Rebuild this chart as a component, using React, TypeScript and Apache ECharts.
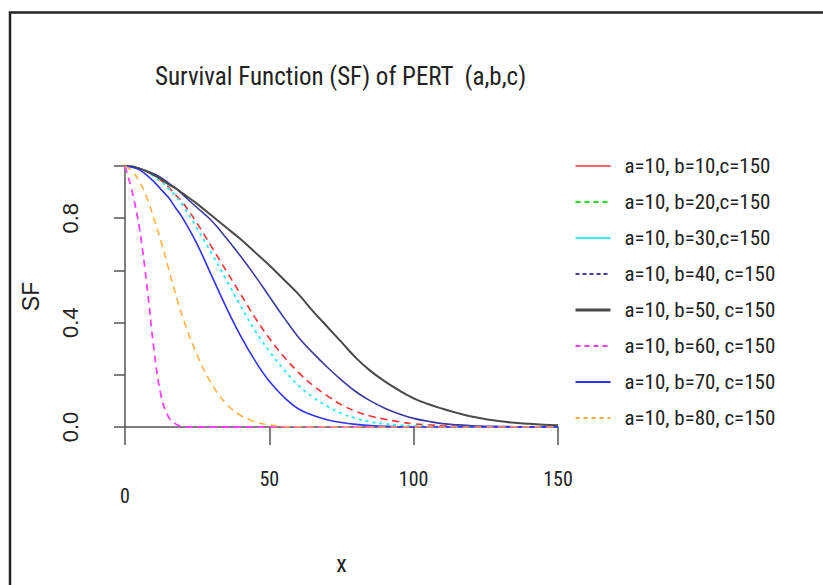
import React, { useEffect, useRef } from "react";
import * as echarts from "echarts";

// ---- data ----
const xs = [0, 2.5, 5, 7.5, 10, 12.5, 15, 17.5, 20, 25, 30, 35, 40, 45, 50, 55, 60, 65, 70, 75, 80, 85, 90, 95, 100, 105, 110, 115, 120, 125, 130, 135, 140, 145, 150];

const sfB10 = [1, 0.998, 0.99, 0.98, 0.965, 0.945, 0.92, 0.89, 0.86, 0.78, 0.69, 0.6, 0.51, 0.42, 0.34, 0.27, 0.21, 0.16, 0.12, 0.085, 0.06, 0.042, 0.03, 0.02, 0.012, 0.008, 0.005, 0.003, 0.002, 0.001, 0.001, 0, 0, 0, 0];
const sfB20: number[] = [];
const sfB30 = [1, 0.998, 0.99, 0.98, 0.96, 0.94, 0.915, 0.885, 0.85, 0.76, 0.665, 0.565, 0.465, 0.37, 0.29, 0.22, 0.16, 0.115, 0.08, 0.052, 0.033, 0.02, 0.012, 0.007, 0.004, 0.002, 0.001, 0, 0, 0, 0, 0, 0, 0, 0];
const sfB40 = [1, 0.998, 0.99, 0.98, 0.97, 0.955, 0.935, 0.915, 0.89, 0.84, 0.79, 0.725, 0.655, 0.58, 0.5, 0.42, 0.345, 0.285, 0.23, 0.18, 0.135, 0.1, 0.072, 0.05, 0.033, 0.022, 0.013, 0.008, 0.005, 0.003, 0.002, 0.001, 0, 0, 0];
const sfB50 = [1, 0.998, 0.99, 0.98, 0.965, 0.95, 0.93, 0.915, 0.895, 0.855, 0.81, 0.765, 0.72, 0.67, 0.62, 0.565, 0.51, 0.445, 0.385, 0.325, 0.265, 0.215, 0.175, 0.14, 0.11, 0.088, 0.07, 0.054, 0.04, 0.03, 0.022, 0.016, 0.012, 0.009, 0.007];
const sfB60 = [1, 0.9, 0.76, 0.55, 0.3, 0.12, 0.04, 0.012, 0.002, 0, 0, 0, 0, 0, 0, 0, 0, 0, 0, 0, 0, 0, 0, 0, 0, 0, 0, 0, 0, 0, 0, 0, 0, 0, 0];
const sfB70 = [1, 0.995, 0.985, 0.965, 0.94, 0.91, 0.88, 0.84, 0.8, 0.7, 0.58, 0.46, 0.35, 0.255, 0.175, 0.115, 0.07, 0.045, 0.028, 0.017, 0.01, 0.006, 0.003, 0.001, 0, 0, 0, 0, 0, 0, 0, 0, 0, 0, 0];
const sfB80 = [1, 0.98, 0.94, 0.88, 0.8, 0.71, 0.61, 0.51, 0.42, 0.275, 0.165, 0.09, 0.045, 0.02, 0.008, 0.002, 0, 0, 0, 0, 0, 0, 0, 0, 0, 0, 0, 0, 0, 0, 0, 0, 0, 0, 0];

const seriesNames = [
  "a=10, b=10,c=150",
  "a=10, b=20,c=150",
  "a=10, b=30,c=150",
  "a=10, b=40, c=150",
  "a=10, b=50, c=150",
  "a=10, b=60, c=150",
  "a=10, b=70, c=150",
  "a=10, b=80, c=150",
];
const seriesValues = [sfB10, sfB20, sfB30, sfB40, sfB50, sfB60, sfB70, sfB80];

const xTicks = [0, 50, 100, 150];
const yLabelled = ["0.0", "0.4", "0.8"];

const titleText = "Survival Function (SF) of PERT  (a,b,c)";

// ---- styles ----
const colors = ["#ff3030", "#22dd22", "#30f0f0", "#3a3aa0", "#4a4a4a", "#ff40ff", "#3030ff", "#ffb040"];
const plotLine = [
  { type: [7, 5], width: 1.6 },
  { type: [5, 4], width: 1.6 },
  { type: [3, 4], width: 2 },
  { type: "solid", width: 1.6 },
  { type: "solid", width: 2 },
  { type: [7, 5], width: 1.8 },
  { type: "solid", width: 1.6 },
  { type: [7, 5], width: 1.6 },
];
const legendLine = [
  { type: "solid", width: 1.6 },
  { type: [5, 4], width: 2 },
  { type: "solid", width: 2 },
  { type: [4, 3], width: 2 },
  { type: "solid", width: 3 },
  { type: [5, 4], width: 2.2 },
  { type: "solid", width: 2.2 },
  { type: [4, 4], width: 1.8 },
];

const NARROW = "'Liberation Sans Narrow', 'Arial Narrow', 'Roboto Condensed', 'Liberation Sans', Arial, sans-serif";
const SANS = "'Liberation Sans', Arial, sans-serif";

export default function App() {
  const ref = useRef<HTMLDivElement>(null);

  useEffect(() => {
    if (!ref.current) return;
    const chart = echarts.init(ref.current, null, { renderer: "svg" });

    const series = seriesNames.map((name, i) => ({
      name,
      type: "line",
      data: seriesValues[i].map((v, j) => [xs[j], v]),
      symbol: "none",
      showSymbol: false,
      smooth: 0.4,
      lineStyle: { color: colors[i], type: plotLine[i].type, width: plotLine[i].width },
      itemStyle: { color: colors[i] },
      z: 2 + i,
    }));

    chart.setOption({
      animation: false,
      backgroundColor: "#ffffff",
      title: {
        text: titleText,
        left: 155,
        top: 64,
        padding: 0,
        textStyle: { fontFamily: NARROW, fontSize: 25, fontWeight: "normal", color: "#222" },
      },
      legend: {
        orient: "vertical",
        left: 574,
        top: 153,
        padding: 0,
        itemWidth: 35,
        itemHeight: 14,
        itemGap: 10,
        selectedMode: false,
        itemStyle: { opacity: 0 },
        textStyle: { fontFamily: NARROW, fontSize: 21, color: "#222", lineHeight: 26, padding: [0, 0, 0, 9] },
        data: seriesNames.map((name, i) => ({
          name,
          itemStyle: { opacity: 0 },
          lineStyle: { color: colors[i], type: legendLine[i].type, width: legendLine[i].width },
        })),
      },
      grid: { left: 125, top: 166, width: 433, height: 261, containLabel: false },
      xAxis: {
        type: "value",
        min: xTicks[0],
        max: xTicks[xTicks.length - 1],
        interval: 50,
        offset: 9,
        name: "x",
        nameLocation: "middle",
        nameGap: 116,
        nameTextStyle: { fontFamily: NARROW, fontSize: 24, color: "#222" },
        axisLine: { lineStyle: { color: "#555", width: 1.5 } },
        axisTick: { length: 18, lineStyle: { color: "#555", width: 1.5 } },
        splitLine: { show: false },
        axisLabel: {
          margin: 33,
          fontFamily: NARROW,
          fontSize: 20,
          color: "#222",
          formatter: (v: number) => (v === 0 ? "{low|0}" : "{n|" + v + "}"),
          rich: {
            low: { fontFamily: NARROW, fontSize: 20, color: "#222", padding: [17, 0, 0, 0] },
            n: { fontFamily: NARROW, fontSize: 20, color: "#222" },
          },
        },
      },
      yAxis: {
        type: "value",
        min: 0,
        max: 1,
        interval: 0.2,
        offset: 17,
        name: "SF",
        nameLocation: "middle",
        nameRotate: 90,
        nameGap: 66,
        nameTextStyle: { fontFamily: SANS, fontSize: 23, color: "#222" },
        axisLine: { show: true, lineStyle: { color: "#555", width: 1.5 } },
        axisTick: { show: true, length: 11, lineStyle: { color: "#555", width: 1.5 } },
        splitLine: { show: false },
        axisLabel: {
          rotate: 90,
          margin: 27,
          fontFamily: SANS,
          fontSize: 22,
          color: "#222",
          formatter: (v: number) => {
            const s = (Math.round(v * 10) / 10).toFixed(1);
            return yLabelled.indexOf(s) >= 0 ? s : "";
          },
        },
      },
      graphic: [
        {
          type: "rect",
          shape: { x: 10, y: 12.5, width: 900, height: 700 },
          style: { fill: "none", stroke: "#222", lineWidth: 2.5 },
          silent: true,
        },
      ],
      series,
    });

    return () => chart.dispose();
  }, []);

  return (
    <div
      ref={ref}
      style={{ position: "fixed", left: 0, top: 0, width: 823, height: 585, background: "#fff" }}
    />
  );
}
